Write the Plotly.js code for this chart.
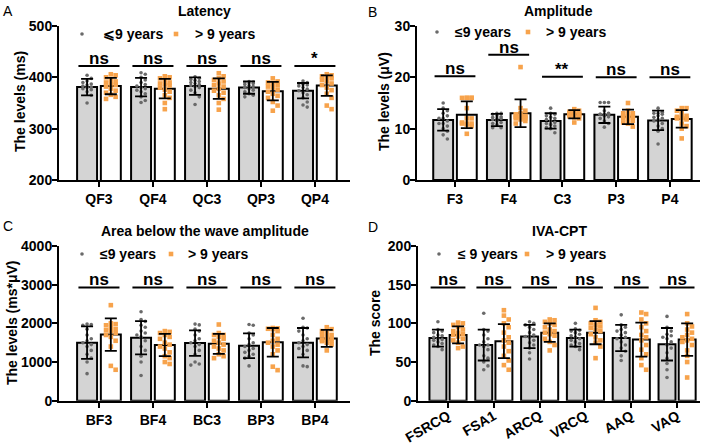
<!DOCTYPE html>
<html><head><meta charset="utf-8">
<script src="https://cdn.plot.ly/plotly-3.0.1.min.js"></script>
<style>html,body{margin:0;padding:0;background:#fff}#chart{width:709px;height:447px}</style>
</head><body><div id="chart"></div>
<script>
// ---------------- DATA ----------------
const catsA = ['QF3','QF4','QC3','QP3','QP4'];
const meanA_le9 = [381, 381, 383, 380, 374];
const sdA_le9   = [16, 18, 17, 12, 15];
const meanA_gt9 = [383, 378, 378, 373, 384];
const sdA_gt9   = [16, 19, 20, 18, 20];
const ptsA_le9 = [
 [404,398,393,390,387,385,383,381,380,378,376,372,365,350],
 [409,406,400,395,390,386,383,380,378,375,372,368,362,355,351],
 [401,398,396,394,392,390,388,386,384,382,380,375,370,362,347],
 [392,391,390,389,388,386,384,382,380,378,375,372,368,365,362],
 [393,390,388,386,385,383,380,377,374,370,366,360,352,346,342]
];
const ptsA_gt9 = [
 [406,404,400,396,392,390,388,385,382,378,374,370,366,362,358],
 [402,400,398,394,390,388,386,384,380,376,372,365,360,350,338],
 [408,402,398,395,392,388,385,382,378,374,370,365,358,350,337],
 [398,392,390,387,385,382,380,376,372,368,364,360,352,345,335],
 [406,404,402,400,398,395,392,388,385,380,375,368,360,345,338]
];
const sigA = ['ns','ns','ns','ns','*'];

const catsB = ['F3','F4','C3','P3','P4'];
const meanB_le9 = [11.7, 11.7, 11.5, 12.7, 11.6];
const sdB_le9   = [2.1, 1.2, 1.5, 1.6, 1.9];
const meanB_gt9 = [12.7, 13.0, 12.8, 12.3, 11.9];
const sdB_gt9   = [2.6, 2.7, 0.8, 1.4, 1.7];
const ptsB_le9 = [
 [15,14,13.5,13,12.5,12,12,11.5,11,11,10.5,10,9.5,8.8,8],
 [13,13,12.8,12.5,12.3,12.2,12,12,11.8,11.5,11.2,11,10.8,10.2,10.2],
 [14,13,12.8,12.5,12.2,12,11.8,11.5,11.2,11,10.8,10.5,10.2,10,9.2],
 [15.1,15.1,15.1,13.5,13,12.8,12.8,12.8,12.8,12.5,12.3,12,11.5,11,10.3],
 [14,13.2,13,13,12.8,12.5,12.2,12,11.8,11.5,11,10.5,10,9.5,7]
];
const ptsB_gt9 = [
 [16,16,16,16,16,14,12,12,11.2,11,11,11,10.8,10.5,9],
 [22,14,13.5,13,12.8,12.5,12.5,12.3,12.3,12.2,12,12,11.8,11.5,11],
 [13.8,13.5,13.3,13.2,13,13,12.9,12.8,12.7,12.6,12.5,12.4,12.2,12,11.2],
 [15,13.5,13,13,12.8,12.5,12.5,12.3,12.2,12,11.8,11.5,11.2,11,10.4],
 [14,14,13.5,13,12.5,12.3,12.2,12,12,12,11.8,11,10.5,10,8.1]
];
const sigB = ['ns','ns','**','ns','ns'];

const catsC = ['BF3','BF4','BC3','BP3','BP4'];
const meanC_le9 = [1500, 1630, 1490, 1420, 1500];
const sdC_le9   = [420, 430, 330, 320, 380];
const meanC_gt9 = [1710, 1440, 1470, 1510, 1610];
const sdC_gt9   = [420, 290, 260, 370, 220];
const ptsC_le9 = [
 [1980,1970,1950,1850,1700,1600,1550,1500,1450,1400,1300,1200,1100,1000,700],
 [2300,2100,2050,1950,1900,1800,1750,1700,1650,1550,1400,1300,1150,1000,650],
 [1980,1960,1850,1800,1700,1600,1550,1500,1450,1400,1300,1200,1000,950,920],
 [1970,1950,1750,1700,1600,1500,1450,1400,1350,1300,1250,1200,1150,1100,900],
 [2130,1900,1880,1800,1700,1600,1550,1500,1450,1400,1350,1300,1200,900,880]
];
const ptsC_gt9 = [
 [2470,2000,1980,1950,1900,1850,1820,1800,1750,1700,1650,1550,1400,900,800],
 [1800,1780,1750,1700,1650,1600,1500,1450,1400,1350,1250,1150,1100,1000,950],
 [1970,1750,1700,1700,1650,1600,1550,1500,1450,1400,1350,1300,1200,1150,1100],
 [1880,1870,1860,1850,1800,1700,1600,1550,1500,1450,1400,1300,1200,880,790],
 [1900,1850,1800,1750,1700,1700,1650,1600,1580,1560,1550,1540,1500,1450,1300]
];
const sigC = ['ns','ns','ns','ns','ns'];

const catsD = ['FSRCQ','FSA1','ARCQ','VRCQ','AAQ','VAQ'];
const meanD_le9 = [81, 72, 83, 81, 81, 73];
const sdD_le9   = [11, 20, 15, 11, 17, 21];
const meanD_gt9 = [85, 77, 88, 88, 79, 79];
const sdD_gt9   = [11, 22, 12, 15, 22, 21];
const ptsD_le9 = [
 [102,92,90,88,85,84,82,80,79,78,76,74,72,70,66],
 [113,92,90,85,80,76,72,72,70,66,58,55,50,45,40],
 [102,100,98,95,92,88,85,83,82,78,75,72,68,62,54],
 [100,93,91,90,88,86,84,82,80,78,76,74,72,70,66],
 [111,98,95,92,90,88,85,82,80,76,72,68,64,58,52],
 [109,95,90,86,84,82,80,76,72,68,62,55,48,40,30]
];
const ptsD_gt9 = [
 [101,100,98,95,92,90,88,86,85,83,80,78,75,70,68],
 [117,110,105,100,95,88,82,78,75,70,64,58,52,46,40],
 [105,104,102,100,98,95,92,90,88,86,84,80,76,72,65],
 [120,104,102,100,98,96,94,92,90,86,82,78,75,70,55],
 [114,112,105,100,95,90,85,82,78,72,66,60,55,46,40],
 [112,100,96,92,88,85,82,80,78,76,72,65,58,50,30]
];
const sigD = ['ns','ns','ns','ns','ns','ns'];

// ---------------- LAYOUT / DRAW ----------------
const W = 709, H = 447;
const FONT = 'Liberation Sans, Arial, Helvetica, sans-serif';
const GRAY = '#d4d4d4', DOT = '#6a6a6a', ORANGE = '#f7a34c';
const OFF = 0.22, BW = 0.37;

const panels = [
 {id:'', letter:'A', title:'Latency', ytitle:'The levels (ms)', cats:catsA,
  m1:meanA_le9, s1:sdA_le9, m2:meanA_gt9, s2:sdA_gt9, p1:ptsA_le9, p2:ptsA_gt9, sig:sigA,
  sigY:[422,422,422,422,422], yr:[200,500], dtick:100,
  px:[59,350], py:[26,180], xr:[-0.74,4.65], name1:'⩽9 years', name2:'> 9 years',
  letterPos:[8,11], ytPos:[20,102], leg:[82,102,176,194,34], tickangle:0, stand:0},
 {id:'2', letter:'B', title:'Amplitude', ytitle:'The levels (μV)', cats:catsB,
  m1:meanB_le9, s1:sdB_le9, m2:meanB_gt9, s2:sdB_gt9, p1:ptsB_le9, p2:ptsB_gt9, sig:sigB,
  sigY:[20.2,24.4,20.1,20,20], yr:[0,30], dtick:10,
  px:[417,700], py:[26,180], xr:[-0.707,4.56], name1:'≤9 years', name2:'> 9 years',
  letterPos:[373,12], ytPos:[384,102], leg:[437,454,528,545,32], tickangle:0, stand:0},
 {id:'3', letter:'C', title:'Area below the wave amplitude', ytitle:'The levels (ms*μV)', cats:catsC,
  m1:meanC_le9, s1:sdC_le9, m2:meanC_gt9, s2:sdC_gt9, p1:ptsC_le9, p2:ptsC_gt9, sig:sigC,
  sigY:[2930,2930,2930,2930,2930], yr:[0,4000], dtick:1000,
  px:[59,350], py:[246,400.7], xr:[-0.74,4.65], name1:'≤9 years', name2:'> 9 years',
  letterPos:[8,226], ytPos:[12,323], leg:[82,99,171,187,254], tickangle:0, stand:0},
 {id:'4', letter:'D', title:'IVA-CPT', ytitle:'The score', cats:catsD,
  m1:meanD_le9, s1:sdD_le9, m2:meanD_gt9, s2:sdD_gt9, p1:ptsD_le9, p2:ptsD_gt9, sig:sigD,
  sigY:[146.5,146.5,146.5,146.5,146.5,146.5], yr:[0,200], dtick:50,
  px:[418,700], py:[246,400.7], xr:[-0.655,5.5], name1:'≤ 9 years', name2:'> 9 years',
  letterPos:[373,227], ytPos:[375,323], leg:[439,457,527,545,254], tickangle:-30, stand:-5}
];

function swarm(vals, center, halfPx, pxX, pxY, d) {
  const xs = new Array(vals.length);
  const placed = [];
  const order = vals.map((v,i)=>i).sort((a,b)=>vals[b]-vals[a]);
  const step = d / pxX;
  const maxK = Math.max(1, Math.floor(halfPx / d));
  for (const i of order) {
    let best = 0, bestScore = Infinity;
    for (let k = 0; k <= 2*maxK; k++) {
      const off = (k % 2 === 1 ? 1 : -1) * Math.ceil(k/2) * step;
      let overlap = 0;
      for (const p of placed) {
        const dx = (p.x - off) * pxX, dy = (p.y - vals[i]) * pxY;
        const dist = Math.hypot(dx, dy);
        if (dist < d) overlap += d - dist;
      }
      if (overlap === 0) { best = off; bestScore = 0; break; }
      if (overlap < bestScore) { bestScore = overlap; best = off; }
    }
    placed.push({x:best, y:vals[i]});
    xs[i] = center + best;
  }
  return xs;
}

const traces = [], annotations = [], shapes = [];
const layout = {
  width: W, height: H, margin:{l:0,r:0,t:0,b:0},
  paper_bgcolor:'#fff', plot_bgcolor:'rgba(0,0,0,0)',
  barmode:'overlay', showlegend:false,
  font:{family:FONT, color:'#000'},
  annotations, shapes
};
const bold14 = {family:FONT, size:14, weight:'bold', color:'#000'};

panels.forEach((P, pi) => {
  const xa = 'x' + P.id, ya = 'y' + P.id;
  const idx = P.cats.map((c,i)=>i);
  const pxX = (P.px[1]-P.px[0]) / (P.xr[1]-P.xr[0]);
  const pxY = (P.py[1]-P.py[0]) / (P.yr[1]-P.yr[0]);

  traces.push({type:'bar', x:idx, y:P.m1, offset:-OFF-BW/2, width:BW, xaxis:xa, yaxis:ya, name:P.name1,
    marker:{color:GRAY, line:{color:'#000', width:2}}, hoverinfo:'skip'});
  traces.push({type:'bar', x:idx, y:P.m2, offset:OFF-BW/2, width:BW, xaxis:xa, yaxis:ya, name:P.name2,
    marker:{color:'#fff', line:{color:'#000', width:2}}, hoverinfo:'skip'});

  const x1 = [], y1 = [], x2 = [], y2 = [];
  idx.forEach(i => {
    const a = swarm(P.p1[i], i-OFF, 8, pxX, pxY, 4.2);
    a.forEach((v,k)=>{x1.push(v); y1.push(P.p1[i][k]);});
    const b = swarm(P.p2[i], i+OFF, 8, pxX, pxY, 4.8);
    b.forEach((v,k)=>{x2.push(v); y2.push(P.p2[i][k]);});
  });
  traces.push({type:'scatter', mode:'markers', x:x1, y:y1, xaxis:xa, yaxis:ya, name:P.name1,
    marker:{color:DOT, size:3.6, symbol:'circle'}, hoverinfo:'skip', cliponaxis:false});
  traces.push({type:'scatter', mode:'markers', x:x2, y:y2, xaxis:xa, yaxis:ya, name:P.name2,
    marker:{color:ORANGE, size:4.6, symbol:'square'}, hoverinfo:'skip', cliponaxis:false});

  [[P.m1,P.s1,-OFF],[P.m2,P.s2,OFF]].forEach(([m,s,o]) => {
    traces.push({type:'scatter', mode:'markers', x:idx.map(i=>i+o), y:m, xaxis:xa, yaxis:ya,
      marker:{size:1, opacity:0}, hoverinfo:'skip',
      error_y:{type:'data', array:s, visible:true, color:'#000', thickness:1.8, width:6}});
  });

  const axBase = {showgrid:false, zeroline:false, showline:true, linewidth:2, linecolor:'#000',
    ticks:'outside', ticklen:5, tickwidth:2, tickcolor:'#000',
    tickfont:bold14, fixedrange:true};
  layout['xaxis' + P.id] = Object.assign({}, axBase, {
    domain:[P.px[0]/W, P.px[1]/W], range:P.xr, anchor:ya,
    tickmode:'array', tickvals:idx, ticktext:P.cats, tickangle:P.tickangle, ticklabelstandoff:P.stand});
  layout['yaxis' + P.id] = Object.assign({}, axBase, {
    domain:[1-P.py[1]/H, 1-P.py[0]/H], range:P.yr, anchor:xa, dtick:P.dtick, tick0:0,
    ticklabelstandoff:-3});

  // legend (drawn by hand to match the reference placement)
  const ly = 1 - P.leg[4]/H;
  shapes.push({type:'circle', xref:'paper', yref:'paper', xsizemode:'pixel', ysizemode:'pixel',
    xanchor:P.leg[0]/W, yanchor:ly, x0:-1.8, x1:1.8, y0:-1.8, y1:1.8,
    fillcolor:DOT, line:{width:0}});
  shapes.push({type:'rect', xref:'paper', yref:'paper', xsizemode:'pixel', ysizemode:'pixel',
    xanchor:P.leg[2]/W, yanchor:ly, x0:-2.3, x1:2.3, y0:-2.3, y1:2.3,
    fillcolor:ORANGE, line:{width:0}});
  annotations.push({xref:'paper', yref:'paper', x:P.leg[1]/W, y:ly, xanchor:'left', yanchor:'middle',
    showarrow:false, text:P.name1, font:bold14, borderpad:0});
  annotations.push({xref:'paper', yref:'paper', x:P.leg[3]/W, y:ly, xanchor:'left', yanchor:'middle',
    showarrow:false, text:P.name2, font:bold14, borderpad:0});

  idx.forEach(i => {
    shapes.push({type:'line', xref:xa, yref:ya, x0:i-0.38, x1:i+0.38, y0:P.sigY[i], y1:P.sigY[i],
      line:{color:'#000', width:2}});
    annotations.push({xref:xa, yref:ya, x:i, y:P.sigY[i], yanchor:'bottom', yshift:-3, showarrow:false,
      text:P.sig[i], font:{family:FONT, size:17, weight:'bold', color:'#000'}, borderpad:0});
  });

  annotations.push({xref:'paper', yref:'paper', x:((P.px[0]+P.px[1])/2)/W, y:1-(P.py[0]-15)/H,
    xanchor:'center', yanchor:'middle', showarrow:false, text:P.title, font:bold14});
  annotations.push({xref:'paper', yref:'paper', x:P.letterPos[0]/W, y:1-P.letterPos[1]/H,
    xanchor:'center', yanchor:'middle', showarrow:false, text:P.letter,
    font:{family:FONT, size:14, color:'#000'}});
  annotations.push({xref:'paper', yref:'paper', x:P.ytPos[0]/W, y:1-P.ytPos[1]/H,
    xanchor:'center', yanchor:'middle', showarrow:false, text:P.ytitle, textangle:-90, font:bold14});
});

Plotly.newPlot('chart', traces, layout, {staticPlot:true, displayModeBar:false});
</script></body></html>
